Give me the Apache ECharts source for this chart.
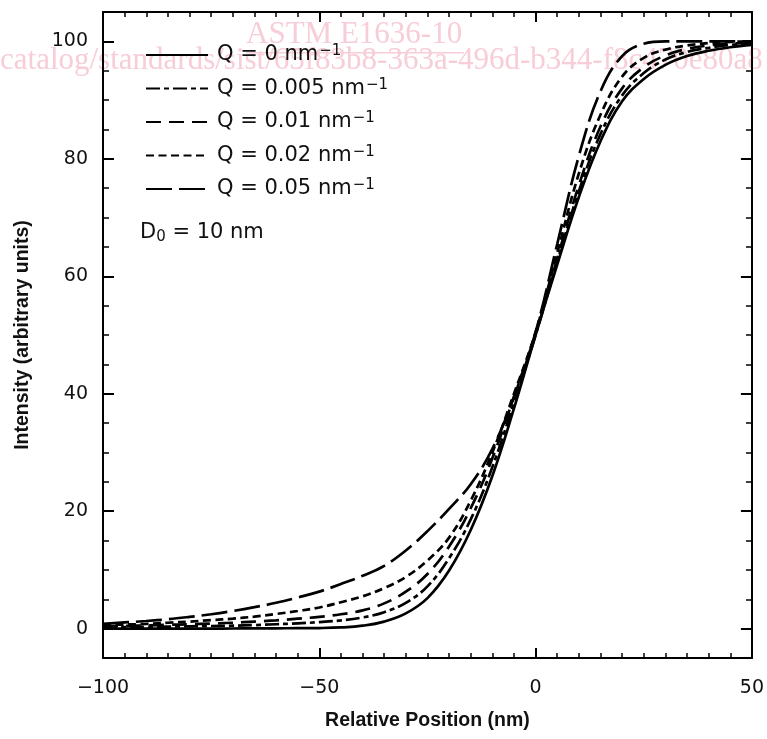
<!DOCTYPE html>
<html><head><meta charset="utf-8">
<script src="https://cdn.jsdelivr.net/npm/echarts@6/dist/echarts.min.js"></script>
<style>html,body{margin:0;padding:0;background:#fff}#c{width:767px;height:739px}</style>
</head><body><div id="c"></div>
<script>
// Relative position (nm)
const positions = [-100,-95,-90,-85,-80,-75,-70,-65,-60,-55,-50,-45,-40,-35,-30,-25,-20,-15,-10,-5,0,5,10,15,20,25,30,35,40,45,50];
// Intensity (arbitrary units) for each Q
const q0   = [0,0,0,0,0,0,0.02,0.04,0.06,0.08,0.1,0.2,0.5,1.2,2.6,5.2,9.9,16.8,26,37.5,50,62,73.5,83,89.8,93.6,96,97.5,98.4,99,99.4];
const q005 = [0.2,0.25,0.3,0.35,0.4,0.45,0.5,0.6,0.75,0.9,1.1,1.4,1.9,2.8,4.4,7.2,12,18.6,27.5,38.5,50,62.5,74.5,84.2,90.8,94.6,96.9,98.2,98.9,99.4,99.6];
const q01  = [0.4,0.47,0.55,0.65,0.75,0.87,1.0,1.2,1.4,1.7,2.0,2.45,3.1,4.3,6.3,9.3,14,20.5,29,39.5,50.3,63,75.5,85.5,92,95.6,97.6,98.7,99.3,99.6,99.8];
const q02  = [0.6,0.7,0.8,1.0,1.2,1.45,1.7,2.05,2.5,3.0,3.6,4.5,5.5,6.9,8.8,11.6,15.5,21.8,30,40,50.5,64,77.5,87.5,94,97.2,98.6,99.3,99.7,99.9,100];
const q05  = [0.8,1.05,1.3,1.6,2.0,2.45,3.0,3.65,4.4,5.3,6.3,7.6,9.0,10.7,13.3,16.6,20.4,24.6,30.6,39.5,50.5,65.5,80.5,91.5,97.5,99.6,100,100,100,100,100];
const qLabels = ['Q = 0','Q = 0.005','Q = 0.01','Q = 0.02','Q = 0.05'];
const seriesValues = [q0,q005,q01,q02,q05];
const dashes = ['solid',[14,4,5,4],[15,8],[8,4.5],[26,7]];

const FONT = 'DejaVu Sans';
const fmtNum = v => v < 0 ? '\u2212' + (-v) : String(v);

const chart = echarts.init(document.getElementById('c'), null, {renderer:'canvas'});
const gridRect = {left:103, right:15, top:12, bottom:81};
const blackLine = {color:'#000', width:2};

const series = seriesValues.map((vals,i)=>({
  name: qLabels[i], type:'line', xAxisIndex:0, yAxisIndex:0,
  data: positions.map((x,j)=>[x, vals[j]]),
  showSymbol:false, symbol:'none', smooth:0.4,
  itemStyle:{color:'#000'},
  lineStyle:{color:'#000', width:2.7, type:dashes[i]}, z:3
}));

chart.setOption({
  animation:false,
  backgroundColor:'#fff',
  textStyle:{fontFamily:FONT},
  grid:[Object.assign({}, gridRect), Object.assign({}, gridRect)],
  xAxis:[
    {gridIndex:0, type:'value', position:'bottom', min:-100, max:50, interval:50,
     axisLine:{show:true, onZero:false, lineStyle:blackLine},
     axisTick:{show:true, inside:true, length:10, lineStyle:{color:'#000',width:2}},
     minorTick:{show:true, splitNumber:10, length:5, lineStyle:{color:'#000',width:1.5}},
     splitLine:{show:false}, minorSplitLine:{show:false},
     axisLabel:{fontFamily:FONT, fontSize:19, color:'#111', margin:21, formatter:fmtNum},
     name:'Relative Position (nm)', nameLocation:'middle', nameGap:53,
     nameTextStyle:{fontFamily:'Liberation Sans', fontWeight:'bold', fontSize:19.5, color:'#111'}},
    {gridIndex:0, type:'value', position:'top', min:-100, max:50, interval:50,
     axisLine:{show:true, onZero:false, lineStyle:blackLine},
     axisTick:{show:true, inside:true, length:10, lineStyle:{color:'#000',width:2}},
     minorTick:{show:true, splitNumber:10, length:5, lineStyle:{color:'#000',width:1.5}},
     splitLine:{show:false}, axisLabel:{show:false}},
    {gridIndex:1, type:'value', min:-100, max:50, show:false}
  ],
  yAxis:[
    {gridIndex:0, type:'value', position:'left', min:-5, max:105, splitNumber:5,
     axisLine:{show:true, onZero:false, lineStyle:blackLine},
     axisTick:{show:true, inside:true, length:11, lineStyle:{color:'#000',width:2}},
     splitLine:{show:false},
     axisLabel:{fontFamily:FONT, fontSize:19, color:'#111', margin:15,
       formatter: v => (v % 20 === 0 ? fmtNum(v) : '')},
     name:'Intensity (arbitrary units)', nameLocation:'middle', nameGap:70,
     nameTextStyle:{fontFamily:'Liberation Sans', fontWeight:'bold', fontSize:19.5, color:'#111'}},
    {gridIndex:0, type:'value', position:'right', min:-5, max:105, splitNumber:5,
     axisLine:{show:true, onZero:false, lineStyle:blackLine},
     axisTick:{show:true, inside:true, length:11, lineStyle:{color:'#000',width:2}},
     splitLine:{show:false}, axisLabel:{show:false}},
    {gridIndex:1, type:'value', position:'left', min:-5, max:105, interval:5,
     axisLine:{show:false, onZero:false},
     axisTick:{show:true, inside:true, length:6, lineStyle:{color:'#000',width:1.5}},
     splitLine:{show:false}, axisLabel:{show:false}},
    {gridIndex:1, type:'value', position:'right', min:-5, max:105, interval:5,
     axisLine:{show:false, onZero:false},
     axisTick:{show:true, inside:true, length:6, lineStyle:{color:'#000',width:1.5}},
     splitLine:{show:false}, axisLabel:{show:false}}
  ],
  legend:{
    orient:'vertical', left:140, top:39, itemWidth:62, itemHeight:14, itemGap:12,
    data: qLabels,
    itemStyle:{opacity:0},
    formatter: n => '{t|' + n + ' nm}{s|\u22121}',
    textStyle:{fontFamily:FONT, fontSize:21, color:'#111',
      rich:{ t:{fontFamily:FONT, fontSize:21, color:'#111', lineHeight:22, padding:[0,1,0,4]},
             s:{fontFamily:FONT, fontSize:15, color:'#111', lineHeight:12, verticalAlign:'top'} }}
  },
  graphic:[
    {type:'text', left:246, top:19, z:-10, silent:true,
     style:{text:'ASTM E1636-10', fontFamily:'Liberation Serif', fontSize:31, fill:'#f7cdd7'}},
    {type:'rect', left:246, top:52, z:-10, silent:true, shape:{width:218, height:1.5}, style:{fill:'#f7cdd7'}},
    {type:'text', left:0, top:45, z:-10, silent:true,
     style:{text:'catalog/standards/sist/65f83b8-363a-496d-b344-f8c470e80a8', fontFamily:'Liberation Serif', fontSize:31, fill:'#f7cdd7'}},
    {type:'text', left:140, top:222, z:10,
     style:{text:'{a|D}{b|0}{a| = 10 nm}', fill:'#111',
       rich:{a:{fontFamily:FONT, fontSize:21, fill:'#111', lineHeight:24},
             b:{fontFamily:FONT, fontSize:15, fill:'#111', lineHeight:12, verticalAlign:'bottom'}}}}
  ],
  series: series
});
</script></body></html>
